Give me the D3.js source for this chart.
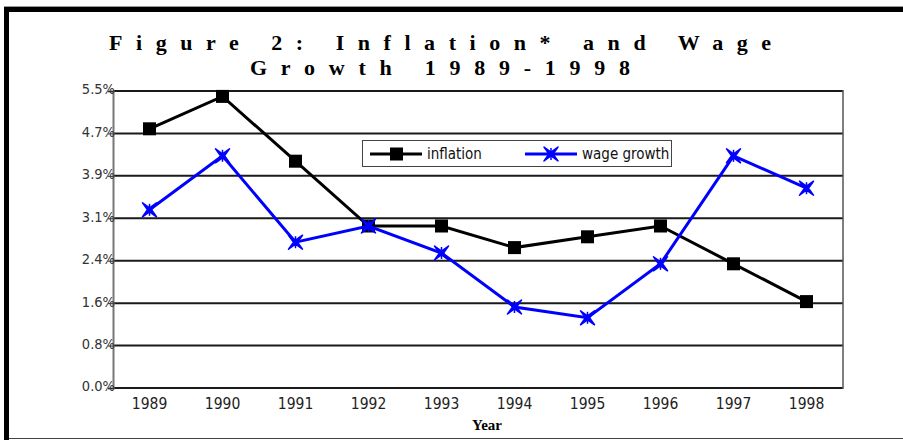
<!DOCTYPE html>
<html>
<head>
<meta charset="utf-8">
<script src="https://cdn.jsdelivr.net/npm/d3@7"></script>
<style>
  body { margin: 0; background: #fff; }
  svg { display: block; }
</style>
</head>
<body>
<div class="chart"></div>
<script>
// data
const years = ['1989', '1990', '1991', '1992', '1993', '1994', '1995', '1996', '1997', '1998'];
const inflation = [4.8, 5.4, 4.2, 3.0, 3.0, 2.6, 2.8, 3.0, 2.3, 1.6];
const wageGrowth = [3.3, 4.3, 2.7, 3.0, 2.5, 1.5, 1.3, 2.3, 4.3, 3.7];
const yTicks = [0, 5.5 / 7, 2 * 5.5 / 7, 3 * 5.5 / 7, 4 * 5.5 / 7, 5 * 5.5 / 7, 6 * 5.5 / 7, 5.5];
const titleLines = ['Figure 2: Inflation* and Wage', 'Growth 1989-1998'];

const width = 903, height = 440;
const plot = { left: 113, right: 843, top: 91, bottom: 388 };
const sansFont = '"DejaVu Sans Condensed", "Liberation Sans", sans-serif';

const svg = d3.select('.chart').append('svg')
  .attr('width', width)
  .attr('height', height);

// outer frame
svg.append('line').attr('x1', 4).attr('x2', width).attr('y1', 6.5).attr('y2', 6.5)
  .attr('stroke', '#999').attr('stroke-width', 1);
svg.append('rect').attr('x', 4).attr('y', 7).attr('width', width - 4).attr('height', 5).attr('fill', '#000');
svg.append('rect').attr('x', 4).attr('y', 7).attr('width', 5).attr('height', height - 7).attr('fill', '#000');
svg.append('line').attr('x1', 9).attr('x2', width).attr('y1', 438.5).attr('y2', 438.5)
  .attr('stroke', '#444').attr('stroke-width', 1);

// title
const titleWidths = [662, 380];
svg.selectAll('.title').data(titleLines).enter().append('text')
  .attr('class', 'title')
  .attr('x', (d, i) => 440 - titleWidths[i] / 2)
  .attr('y', (d, i) => 50 + i * 25)
  .attr('textLength', (d, i) => titleWidths[i])
  .attr('lengthAdjust', 'spacing')
  .attr('font-family', '"Liberation Serif", "Times New Roman", serif')
  .attr('font-weight', 'bold')
  .attr('font-size', 22)
  .attr('fill', '#000')
  .text(d => d);

const x = d3.scaleBand().domain(years).range([plot.left, plot.right]);
const y = d3.scaleLinear().domain([0, 5.5]).range([plot.bottom, plot.top]);

// gridlines
svg.append('g').selectAll('line').data(yTicks).enter().append('line')
  .attr('x1', plot.left).attr('x2', plot.right)
  .attr('y1', d => y(d)).attr('y2', d => y(d))
  .attr('stroke', '#1a1a1a').attr('stroke-width', 2);

// plot border (right side)
svg.append('line').attr('x1', plot.right).attr('x2', plot.right)
  .attr('y1', plot.top - 1).attr('y2', plot.bottom + 1)
  .attr('stroke', '#555').attr('stroke-width', 1.5);

// y axis
const yAxis = d3.axisLeft(y).tickValues(yTicks).tickSize(5).tickPadding(-7)
  .tickFormat(d => d3.format('.1f')(d) + '%');
const gy = svg.append('g').attr('transform', 'translate(' + plot.left + ',0)').call(yAxis);
gy.attr('font-size', null).attr('font-family', null);
gy.select('.domain').attr('stroke', '#777').attr('stroke-width', 2);
gy.selectAll('.tick line').attr('stroke', '#333');
gy.selectAll('.tick text')
  .attr('font-family', sansFont)
  .attr('font-size', 14.5).attr('fill', '#333').attr('dy', '0.2em');

// x axis labels
const xAxis = d3.axisBottom(x).tickSize(0).tickPadding(10);
const gx = svg.append('g').attr('transform', 'translate(0,' + plot.bottom + ')').call(xAxis);
gx.attr('font-size', null).attr('font-family', null);
gx.select('.domain').remove();
gx.selectAll('.tick text')
  .attr('font-family', sansFont)
  .attr('font-size', 15.5).attr('fill', '#222');

svg.append('text')
  .attr('x', 487).attr('y', 430)
  .attr('text-anchor', 'middle')
  .attr('font-family', '"Liberation Serif", "Times New Roman", serif')
  .attr('font-weight', 'bold')
  .attr('font-size', 15)
  .text('Year');

const cx = d => x(d) + x.bandwidth() / 2;
const line = d3.line().x(d => cx(d.year)).y(d => y(d.value));
const infData = years.map((yr, i) => ({ year: yr, value: inflation[i] }));
const wageData = years.map((yr, i) => ({ year: yr, value: wageGrowth[i] }));

const starPath = 'M-7,-7 L0,-2 L7,-7 L2,0 L7,7 L0,2 L-7,7 L-2,0 Z';

function drawStar(g, px, py) {
  const s = g.append('g').attr('transform', 'translate(' + px + ',' + py + ')');
  s.append('path').attr('d', starPath)
    .attr('fill', '#0000ff').attr('stroke', '#0000ff').attr('stroke-width', 1.5)
    .attr('stroke-linejoin', 'round');
  s.append('line').attr('x1', 0).attr('x2', 0).attr('y1', -6).attr('y2', 6)
    .attr('stroke', '#0000ff').attr('stroke-width', 1.5);
}
function drawSquare(g, px, py) {
  g.append('rect').attr('x', px - 6.5).attr('y', py - 6.5).attr('width', 13).attr('height', 13)
    .attr('fill', '#000');
}

// series lines
svg.append('path').datum(infData).attr('d', line)
  .attr('fill', 'none').attr('stroke', '#000').attr('stroke-width', 3);
const gInf = svg.append('g');
infData.forEach(d => drawSquare(gInf, cx(d.year), y(d.value)));

svg.append('path').datum(wageData).attr('d', line)
  .attr('fill', 'none').attr('stroke', '#0000ff').attr('stroke-width', 3);
const gWage = svg.append('g');
wageData.forEach(d => drawStar(gWage, cx(d.year), y(d.value)));

// legend
const legend = svg.append('g');
legend.append('rect').attr('x', 362.5).attr('y', 140.5).attr('width', 309).attr('height', 26)
  .attr('fill', '#fff').attr('stroke', '#444').attr('stroke-width', 1);
legend.append('line').attr('x1', 370).attr('x2', 422).attr('y1', 154).attr('y2', 154)
  .attr('stroke', '#000').attr('stroke-width', 3);
drawSquare(legend, 396.5, 154);
legend.append('text').attr('x', 427).attr('y', 159)
  .attr('font-family', sansFont)
  .attr('font-size', 15).attr('fill', '#111').text('inflation');
legend.append('line').attr('x1', 525).attr('x2', 577).attr('y1', 154).attr('y2', 154)
  .attr('stroke', '#0000ff').attr('stroke-width', 3);
drawStar(legend, 551, 154);
legend.append('text').attr('x', 582).attr('y', 159)
  .attr('font-family', sansFont)
  .attr('font-size', 15).attr('fill', '#111').text('wage growth');
</script>
</body>
</html>
